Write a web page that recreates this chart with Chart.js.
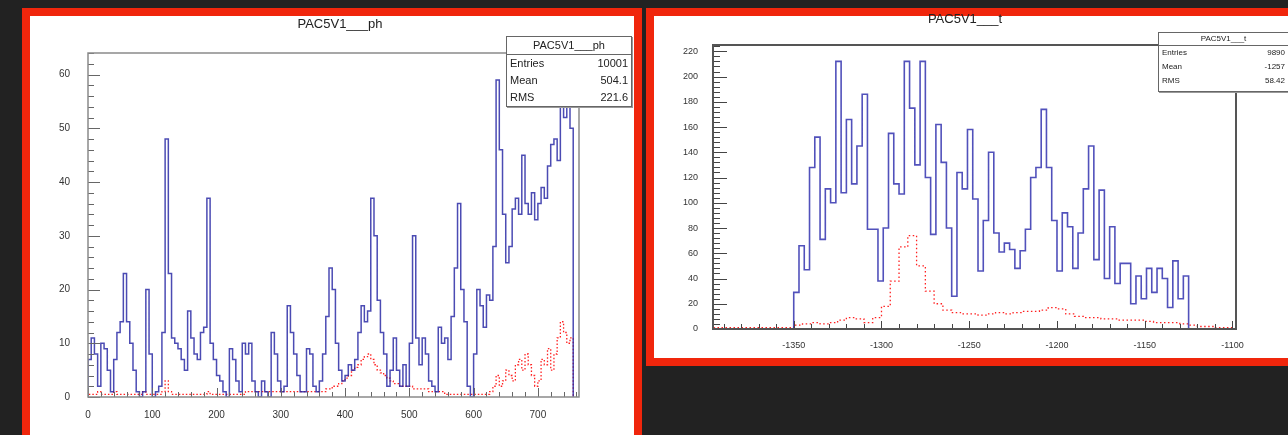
<!DOCTYPE html>
<html>
<head>
<meta charset="utf-8">
<script src="https://cdn.jsdelivr.net/npm/chart.js@4.4.1/dist/chart.umd.min.js"></script>
<style>
  html, body { margin: 0; padding: 0; }
  body {
    width: 1288px; height: 435px; background: #222222;
    position: relative; overflow: hidden;
    font-family: "Liberation Sans", Arial, sans-serif;
  }
  .panel { position: absolute; background: #fff; border: 8px solid #f0260c; box-sizing: border-box; }
  #leftPanel { left: 22px; top: 8px; width: 620px; height: 445px; }
  #rightPanel { left: 646px; top: 8px; width: 660px; height: 358px; }
  canvas { position: absolute; }
  #phChart { left: 30px; top: 16px; }
  #tChart { left: 654px; top: 16px; }
  .title { position: absolute; text-align: center; color: #222; font-size: 13px; }
  .stats {
    position: absolute; background: #fff; border: 1.5px solid #666;
    box-shadow: 1px 1px 0 #999; box-sizing: border-box; color: #222;
  }
  .stats .st-title { text-align: center; border-bottom: 1px solid #666; }
  .stats .st-row { display: flex; justify-content: space-between; padding: 0 3px; }
  #phStats { left: 506px; top: 36px; width: 126px; height: 71px; font-size: 11px; }
  #phStats .st-title { height: 17px; line-height: 17px; }
  #phStats .st-row { height: 17px; line-height: 17px; }
  #tStats { left: 1158px; top: 32px; width: 131px; height: 60px; font-size: 8px; }
  #tStats .st-title { height: 12px; line-height: 12px; }
  #tStats .st-row { height: 14px; line-height: 14px; }
</style>
</head>
<body>
<div class="panel" id="leftPanel"></div>
<div class="panel" id="rightPanel"></div>
<canvas id="phChart" width="604" height="419"></canvas>
<canvas id="tChart" width="634" height="342"></canvas>
<div class="title" id="phTitle" style="left:240px; top:16px; width:200px;"></div>
<div class="title" id="tTitle" style="left:865px; top:11px; width:200px;"></div>
<div class="stats" id="phStats"></div>
<div class="stats" id="tStats"></div>
<script>
// ---- PAC5V1___ph : 5-unit bins starting at 0 ----
const phName = "PAC5V1___ph";
const phFirstBin = 0;
const phBinWidth = 5;
const phXTicks = [0, 100, 200, 300, 400, 500, 600, 700];
const phYTicks = [0, 10, 20, 30, 40, 50, 60];
const phBlue = [
  7, 11, 8, 2, 10, 9, 5, 1, 7, 12,
  14, 23, 14, 10, 5, 1, 0, 1, 20, 8,
  0, 1, 2, 12, 48, 23, 11, 10, 9, 7,
  5, 16, 11, 8, 7, 12, 13, 37, 10, 7,
  4, 3, 1, 0, 9, 7, 3, 1, 10, 8,
  10, 3, 1, 0, 3, 1, 0, 12, 8, 3,
  1, 2, 17, 12, 8, 4, 1, 1, 9, 8,
  2, 1, 3, 8, 15, 24, 20, 10, 5, 3,
  4, 6, 5, 7, 12, 17, 14, 16, 37, 30,
  18, 12, 8, 2, 5, 11, 5, 2, 6, 2,
  10, 30, 11, 6, 11, 8, 3, 2, 1, 13,
  10, 11, 7, 15, 24, 36, 20, 14, 2, 0,
  8, 20, 17, 13, 19, 18, 28, 59, 46, 34,
  25, 28, 35, 37, 34, 45, 36, 34, 38, 33,
  36, 39, 37, 43, 47, 48, 44, 55, 52, 57,
  50
];
const phRed = [
  0.5, 0.5, 0.5, 1, 0.5, 0.5, 0.5, 0.5, 1, 0.5,
  0.5, 0.5, 0.5, 0.5, 0.5, 0.5, 0.5, 1, 0.5, 0.5,
  0.5, 0.5, 0.5, 1, 3, 1, 0.5, 0.5, 0.5, 0.5,
  0.5, 0.5, 0.5, 0.5, 0.5, 0.5, 0.5, 1, 0.5, 0.5,
  0.5, 0.5, 0.5, 0.5, 0.5, 0.5, 0.5, 0.5, 0.5, 1,
  1, 1, 1, 1, 1, 1, 1, 1, 1, 1,
  1, 1, 1, 1, 1, 1, 1, 1, 1, 1,
  1, 1, 1, 1, 1.5, 1.5, 2, 2, 2.5, 3,
  3.5, 4, 5, 5.5, 6, 7, 7.5, 8, 7, 6,
  5, 4.5, 4, 3.5, 3, 2.5, 2.5, 2, 2, 2,
  2, 1.5, 1.5, 1.5, 1.5, 1.5, 1, 1, 1, 1,
  1, 0.5, 0.5, 0.5, 0.5, 0.5, 0.5, 0.5, 0.5, 0.5,
  0.5, 0.5, 0.5, 0.5, 0.5, 1, 2, 4, 2, 3,
  5, 4, 3, 6, 7, 5, 8, 6, 4, 2,
  3, 7, 6, 9, 5, 8, 11, 14, 12, 10,
  11
];
const phStats = [["Entries", "10001"], ["Mean", "504.1"], ["RMS", "221.6"]];

// ---- PAC5V1___t : blue 3-unit bins from -1350, red 5-unit bins from -1395 ----
const tName = "PAC5V1___t";
const tXTicks = [-1350, -1300, -1250, -1200, -1150, -1100];
const tYTicks = [0, 20, 40, 60, 80, 100, 120, 140, 160, 180, 200, 220];
const tBlueFirstBin = -1350;
const tBlueBinWidth = 3;
const tBlue = [
  29, 66, 47, 128, 152, 71, 111, 100, 212, 108,
  166, 115, 145, 186, 79, 79, 38, 80, 155, 115,
  107, 212, 175, 130, 212, 120, 75, 162, 132, 80,
  26, 124, 111, 158, 103, 46, 86, 140, 76, 61,
  68, 63, 48, 62, 79, 120, 128, 174, 128, 86,
  46, 92, 81, 48, 76, 111, 145, 55, 110, 40,
  81, 36, 52, 52, 20, 42, 24, 48, 29, 48,
  40, 17, 54, 24, 42
];
const tRedFirstBin = -1395;
const tRedBinWidth = 5;
const tRed = [
  1, 1, 1, 1, 1, 1, 1, 1, 1,
  3, 4, 5, 4, 5, 7, 9, 8, 5, 9,
  18, 38, 65, 74, 50, 30, 20, 15, 13, 12,
  12, 11, 12, 13, 12, 13, 14, 14, 15, 17,
  16, 12, 10, 9, 9, 8, 8, 7, 7, 7,
  6, 5, 5, 5, 4, 3, 2, 2, 1, 1
];
const tStats = [["Entries", "9890"], ["Mean", "-1257"], ["RMS", "58.42"]];

// histogram as a stepped outline: one point per bin start, closed to zero at both ends
function histPoints(first, width, values) {
  const pts = [{ x: first, y: 0 }];
  values.forEach((v, i) => pts.push({ x: first + i * width, y: v }));
  pts.push({ x: first + values.length * width, y: 0 });
  return pts;
}

// ROOT-like frame with ticks pointing into the pad
const rootFrame = {
  id: "rootFrame",
  afterDatasetsDraw(chart, args, o) {
    const { ctx, chartArea: a, scales } = chart;
    ctx.save();
    ctx.strokeStyle = o.tickColor;
    ctx.lineWidth = 1;
    ctx.beginPath();
    const yStart = Math.ceil(scales.y.min / o.yMinor);
    for (let i = yStart; i * o.yMinor <= scales.y.max; i++) {
      const y = Math.round(scales.y.getPixelForValue(i * o.yMinor)) + 0.5;
      const len = (i * o.yMinor) % o.yMajor === 0 ? o.yMajorLen : o.yMinorLen;
      ctx.moveTo(a.left, y);
      ctx.lineTo(a.left + len, y);
    }
    const xStart = Math.ceil(scales.x.min / o.xMinor);
    for (let i = xStart; i * o.xMinor <= scales.x.max; i++) {
      const x = Math.round(scales.x.getPixelForValue(i * o.xMinor)) + 0.5;
      const len = (i * o.xMinor) % o.xMajor === 0 ? o.xMajorLen : o.xMinorLen;
      ctx.moveTo(x, a.bottom);
      ctx.lineTo(x, a.bottom - len);
    }
    ctx.stroke();
    ctx.strokeStyle = o.frameColor;
    ctx.lineWidth = o.frameWidth;
    ctx.strokeRect(a.left, a.top, a.right - a.left, a.bottom - a.top);
    ctx.restore();
  }
};

function histOptions(c) {
  const font = { family: "'Liberation Sans', Arial, sans-serif", size: c.fontSize };
  return {
    responsive: false,
    animation: false,
    events: [],
    layout: { padding: { top: c.padTop, right: c.padRight, left: 0, bottom: 0 } },
    plugins: {
      legend: { display: false },
      tooltip: { enabled: false },
      rootFrame: c.frame,
    },
    scales: {
      x: {
        type: "linear", min: c.xMin, max: c.xMax,
        grid: { display: false }, border: { display: false },
        ticks: {
          autoSkip: false, maxRotation: 0,
          padding: c.xPad, color: "#333", font: font,
          callback: (v) => String(v),
        },
        afterBuildTicks: (s) => { s.ticks = c.xTicks.map((v) => ({ value: v })); },
        afterFit: (s) => { s.height = c.xAxisH; },
      },
      y: {
        min: 0, max: c.yMax,
        grid: { display: false }, border: { display: false },
        ticks: {
          autoSkip: false, padding: c.yPad, color: "#333", font: font,
          callback: (v) => String(v),
        },
        afterBuildTicks: (s) => { s.ticks = c.yTicks.map((v) => ({ value: v })); },
        afterFit: (s) => { s.width = c.yAxisW; },
      },
    },
  };
}

function fillStats(id, title, rows) {
  const box = document.getElementById(id);
  let html = '<div class="st-title">' + title + "</div>";
  rows.forEach((r) => {
    html += '<div class="st-row"><span>' + r[0] + "</span><span>" + r[1] + "</span></div>";
  });
  box.innerHTML = html;
}

document.getElementById("phTitle").textContent = phName;
document.getElementById("tTitle").textContent = tName;
fillStats("phStats", phName, phStats);
fillStats("tStats", tName, tStats);

new Chart(document.getElementById("phChart"), {
  type: "line",
  data: {
    datasets: [
      {
        data: histPoints(phFirstBin, phBinWidth, phBlue),
        borderColor: "rgba(30, 30, 160, 0.8)",
        borderWidth: 1.5,
        stepped: "before",
        pointRadius: 0,
        fill: false,
      },
      {
        data: histPoints(phFirstBin, phBinWidth, phRed),
        borderColor: "#ff2020",
        borderWidth: 1.3,
        borderDash: [1.5, 2],
        stepped: "before",
        pointRadius: 0,
        fill: false,
      },
    ],
  },
  options: histOptions({
    xMin: 0, xMax: 764, xTicks: phXTicks, yMax: 64, yTicks: phYTicks,
    padTop: 37, padRight: 55, xAxisH: 38, yAxisW: 58, xPad: 4, yPad: 10, fontSize: 10,
    frame: {
      tickColor: "#666", frameColor: "#8a8a8a", frameWidth: 1.5,
      yMinor: 2, yMajor: 10, yMajorLen: 12, yMinorLen: 6,
      xMinor: 20, xMajor: 100, xMajorLen: 9, xMinorLen: 5,
    },
  }),
  plugins: [rootFrame],
});

new Chart(document.getElementById("tChart"), {
  type: "line",
  data: {
    datasets: [
      {
        data: histPoints(tBlueFirstBin, tBlueBinWidth, tBlue),
        borderColor: "rgba(50, 50, 175, 0.85)",
        borderWidth: 1.6,
        stepped: "before",
        pointRadius: 0,
        fill: false,
      },
      {
        data: histPoints(tRedFirstBin, tRedBinWidth, tRed),
        borderColor: "#ff2020",
        borderWidth: 1.3,
        borderDash: [1.5, 2.5],
        stepped: "before",
        pointRadius: 0,
        fill: false,
      },
    ],
  },
  options: histOptions({
    xMin: -1396, xMax: -1098, xTicks: tXTicks, yMax: 225, yTicks: tYTicks,
    padTop: 29, padRight: 52, xAxisH: 29, yAxisW: 59, xPad: 3, yPad: 7, fontSize: 9,
    frame: {
      tickColor: "#444", frameColor: "#555", frameWidth: 2,
      yMinor: 4, yMajor: 20, yMajorLen: 14, yMinorLen: 7,
      xMinor: 10, xMajor: 50, xMajorLen: 8, xMinorLen: 5,
    },
  }),
  plugins: [rootFrame],
});
</script>
</body>
</html>
